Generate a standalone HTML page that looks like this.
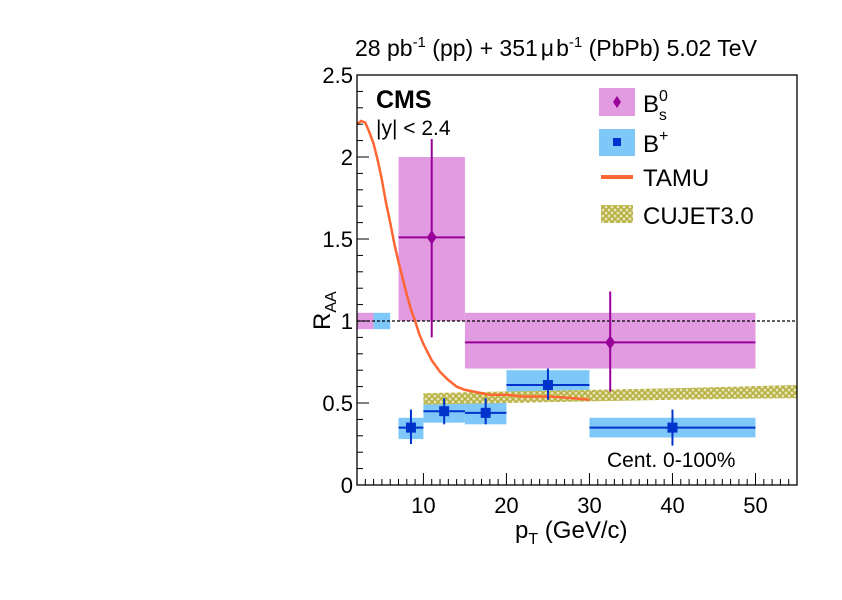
<!DOCTYPE html>
<html><head><meta charset="utf-8"><style>
body{margin:0;background:#fff;}
svg text{font-family:"Liberation Sans",sans-serif;}
</style></head><body>
<svg width="842" height="595" viewBox="0 0 842 595">
<defs>
<pattern id="hatch" width="6" height="6" patternUnits="userSpaceOnUse">
<rect width="6" height="6" fill="#e8e4b8"/>
<path d="M0 0L6 6M6 0L0 6" stroke="#b5b040" stroke-width="1.6"/>
</pattern>
</defs>
<text x="355" y="56" font-size="23">28 pb<tspan font-size="15" dy="-9">-1</tspan><tspan dy="9"> (pp) + 351</tspan><tspan dx="3">μ</tspan><tspan dx="2">b</tspan><tspan font-size="15" dy="-9">-1</tspan><tspan dy="9"> (PbPb) 5.02 TeV</tspan></text>
<g id="plot"></g>
<g id="axes"></g>
<text x="376" y="108" font-size="25" font-weight="bold">CMS</text>
<text x="376" y="135" font-size="21">|y| &lt; 2.4</text>
<text x="607" y="467" font-size="21">Cent. 0-100%</text>
<text x="515" y="538" font-size="24">p<tspan font-size="16" dy="6">T</tspan><tspan dy="-6"> (GeV/c)</tspan></text>
<text transform="translate(330,330) rotate(-90)" font-size="24">R<tspan font-size="16" dy="6">AA</tspan></text>
<g>
<rect x="599" y="88" width="36" height="28" fill="#e29be0"/>
<path d="M617 96l4 6-4 6-4-6z" fill="#990099"/>
<text x="643" y="112" font-size="24">B<tspan font-size="16" dy="-11">0</tspan><tspan font-size="16" dx="-9" dy="19">s</tspan></text>
<rect x="599" y="129" width="36" height="27" fill="#7dc8f8"/>
<rect x="613" y="138" width="8" height="8" fill="#0033cc"/>
<text x="643" y="152" font-size="24">B<tspan font-size="16" dy="-11">+</tspan></text>
<line x1="601" y1="177" x2="633" y2="177" stroke="#ff6633" stroke-width="4"/>
<text x="643" y="186" font-size="24">TAMU</text>
<rect x="601" y="205" width="32" height="18" fill="url(#hatch)"/>
<text x="643" y="224" font-size="24">CUJET3.0</text>
</g>
</svg>
<script>
const bpX=[8.5,12.5,17.5,25,40];
const bpLo=[7,10,15,20,30];
const bpHi=[10,15,20,30,50];
const bpY=[0.35,0.45,0.44,0.61,0.35];
const bpErrLo=[0.25,0.37,0.37,0.52,0.24];
const bpErrHi=[0.46,0.53,0.53,0.71,0.46];
const bpSysLo=[0.28,0.38,0.37,0.53,0.29];
const bpSysHi=[0.41,0.51,0.50,0.70,0.41];
const bsX=[11,32.5];
const bsLo=[7,15];
const bsHi=[15,50];
const bsY=[1.51,0.87];
const bsErrLo=[0.9,0.57];
const bsErrHi=[2.11,1.18];
const bsSysLo=[1.0,0.71];
const bsSysHi=[2.0,1.05];
const tamuX=[2,2.5,3,3.5,4,4.5,5,5.5,6,6.5,7,7.5,8,8.5,9,9.5,10,11,12,13,14,15,16,17,18,20,22,25,28,30];
const tamuY=[2.2,2.22,2.21,2.15,2.08,1.98,1.86,1.72,1.6,1.47,1.36,1.26,1.16,1.07,1.0,0.92,0.86,0.76,0.69,0.64,0.6,0.58,0.57,0.56,0.55,0.55,0.54,0.54,0.53,0.52];
const cujetX=[10,20,30,40,55];
const cujetLo=[0.49,0.5,0.51,0.52,0.53];
const cujetHi=[0.56,0.57,0.58,0.59,0.61];
const xTicks=[10,20,30,40,50];
const yTicks=[0,0.5,1,1.5,2,2.5];
const yTickLabels=["0","0.5","1","1.5","2","2.5"];

const NS="http://www.w3.org/2000/svg";
const X0=2,X1=55,PL=357,PR=797,PT=75,PB=485,Y1=2.5;
const sx=v=>PL+(v-X0)/(X1-X0)*(PR-PL);
const sy=v=>PB-v/Y1*(PB-PT);
const plot=document.getElementById('plot'),axes=document.getElementById('axes');
function mk(p,tag,a){const e=document.createElementNS(NS,tag);for(const k in a)e.setAttribute(k,a[k]);p.appendChild(e);return e;}

let e=mk(plot,'rect',{x:sx(2),y:sy(1.05),width:sx(4)-sx(2),height:sy(0.95)-sy(1.05),fill:'#e29be0'});


e=mk(plot,'rect',{x:sx(4),y:sy(1.05),width:sx(6)-sx(4),height:sy(0.95)-sy(1.05),fill:'#7dc8f8'});


for(let i=0;i<bsX.length;i++){
 e=mk(plot,'rect',{x:sx(bsLo[i]),y:sy(bsSysHi[i]),width:sx(bsHi[i])-sx(bsLo[i]),height:sy(bsSysLo[i])-sy(bsSysHi[i]),fill:'#e29be0'});
 
 
}
for(let i=0;i<bpX.length;i++){
 e=mk(plot,'rect',{x:sx(bpLo[i]),y:sy(bpSysHi[i]),width:sx(bpHi[i])-sx(bpLo[i]),height:sy(bpSysLo[i])-sy(bpSysHi[i]),fill:'#7dc8f8'});
 
 
}
let pts=cujetX.map((x,i)=>sx(x)+','+sy(cujetHi[i])).concat(cujetX.slice().reverse().map((x,j)=>{const i=cujetX.length-1-j;return sx(x)+','+sy(cujetLo[i]);}));
e=mk(plot,'polygon',{points:pts.join(' '),fill:'url(#hatch)'});


e=mk(plot,'line',{x1:PL,x2:PR,y1:sy(1),y2:sy(1),stroke:'#000','stroke-width':1.2,'stroke-dasharray':'3,2'});


e=mk(plot,'polyline',{points:tamuX.map((x,i)=>sx(x)+','+sy(tamuY[i])).join(' '),fill:'none',stroke:'#ff6633','stroke-width':2.5});


for(let i=0;i<bsX.length;i++){
 const g=mk(plot,'g',{});
 
 
 mk(g,'line',{x1:sx(bsLo[i]),x2:sx(bsHi[i]),y1:sy(bsY[i]),y2:sy(bsY[i]),stroke:'#990099','stroke-width':2});
 mk(g,'line',{x1:sx(bsX[i]),x2:sx(bsX[i]),y1:sy(bsErrLo[i]),y2:sy(bsErrHi[i]),stroke:'#990099','stroke-width':2});
 const cx=sx(bsX[i]),cy=sy(bsY[i]);
 mk(g,'path',{d:`M${cx} ${cy-7}l5 7-5 7-5-7z`,fill:'#990099'});
}
for(let i=0;i<bpX.length;i++){
 const g=mk(plot,'g',{});
 
 
 mk(g,'line',{x1:sx(bpLo[i]),x2:sx(bpHi[i]),y1:sy(bpY[i]),y2:sy(bpY[i]),stroke:'#0033cc','stroke-width':2});
 mk(g,'line',{x1:sx(bpX[i]),x2:sx(bpX[i]),y1:sy(bpErrLo[i]),y2:sy(bpErrHi[i]),stroke:'#0033cc','stroke-width':2});
 mk(g,'rect',{x:sx(bpX[i])-5,y:sy(bpY[i])-5,width:10,height:10,fill:'#0033cc'});
}
e=mk(axes,'rect',{x:PL,y:PT,width:PR-PL,height:PB-PT,fill:'none',stroke:'#000','stroke-width':1.3});


for(let v=2;v<=55;v++){
 const big=v%10===0;
 mk(axes,'line',{x1:sx(v),x2:sx(v),y1:PB,y2:PB-(big?12:6),stroke:'#000','stroke-width':1});
}
xTicks.forEach(v=>{
 const t=mk(axes,'text',{x:sx(v),y:PB+28,'text-anchor':'middle','font-size':22});
 t.textContent=v;
 
 
});
for(let k=0;k<=25;k++){
 const v=k*0.1,big=k%5===0;
 mk(axes,'line',{x1:PL,x2:PL+(big?12:6),y1:sy(v),y2:sy(v),stroke:'#000','stroke-width':1});
}
yTicks.forEach((v,i)=>{
 const t=mk(axes,'text',{x:PL-4,y:sy(v)+8,'text-anchor':'end','font-size':22});
 t.textContent=yTickLabels[i];
 
 
});
</script>
</body></html>
